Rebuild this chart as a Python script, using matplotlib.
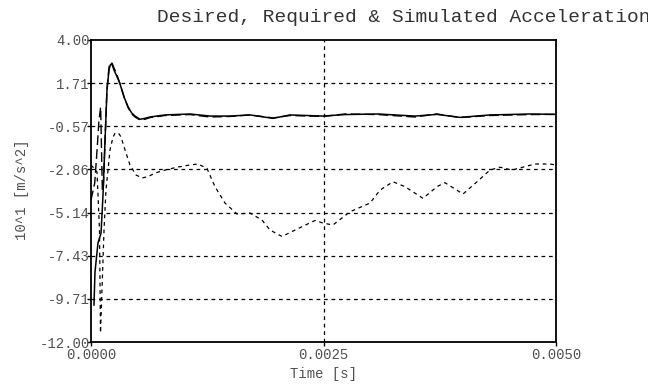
import numpy as np
import matplotlib
matplotlib.use("Agg")
import matplotlib.pyplot as plt

plt.rcParams['font.family'] = ['Liberation Mono', 'DejaVu Sans Mono']

# time in ms, values in 10^1 m/s^2
t_des = [0.0, 0.0645, 0.0914, 0.102, 0.118, 0.140, 0.161, 0.183, 0.204, 0.237,
         0.258, 0.280, 0.302, 0.323, 0.366, 0.419, 0.484, 0.548, 0.613, 0.688,
         0.796, 0.925, 1.065, 1.151, 1.247, 1.333, 1.441, 1.570, 1.710, 1.839,
         1.925, 2.054, 2.194, 2.409, 2.495, 2.602, 2.785, 3.000, 3.108, 3.247,
         3.376, 3.570, 3.720, 3.806, 4.000, 4.151, 4.290, 4.398, 4.527, 4.774,
         4.935, 5.0]
a_des = [-2.62, -2.99, -6.07, -11.52, -9.25, -6.07, -3.95, -2.89, -1.83, -1.14,
         -0.95, -0.90, -0.98, -1.14, -1.83, -2.62, -3.15, -3.31, -3.24, -3.05,
         -2.89, -2.74, -2.62, -2.57, -2.80, -3.77, -4.64, -5.22, -5.17, -5.54,
         -6.07, -6.41, -6.07, -5.56, -5.70, -5.80, -5.10, -4.64, -3.95, -3.51,
         -3.77, -4.39, -3.77, -3.56, -4.16, -3.51, -2.89, -2.74, -2.89, -2.57,
         -2.57, -2.62]

t_req = [0.0, 0.040, 0.065, 0.086, 0.104, 0.113, 0.122, 0.134, 0.151, 0.172,
         0.194, 0.206, 0.218, 0.230, 0.247, 0.280, 0.312, 0.355, 0.398, 0.435,
         0.473, 0.527, 0.580, 0.634, 0.796, 1.065, 1.280, 1.495, 1.710, 1.957,
         2.140, 2.495, 2.731, 3.086, 3.484, 3.720, 3.968, 4.290, 4.720, 5.0]
a_req = [-4.48, -3.58, -1.83, -0.24, 0.45, -1.83, -3.95, -3.68, -1.30, 1.46,
         2.57, 2.76, 2.81, 2.74, 2.52, 2.15, 1.67, 1.00, 0.42, 0.10,
         -0.08, -0.24, -0.20, -0.11, 0.00, 0.05, -0.08, -0.05, 0.03, -0.13,
         0.00, -0.05, 0.08, 0.05, -0.08, 0.08, -0.11, 0.00, 0.05, 0.06]

t_sim = [0.032, 0.043, 0.075, 0.108, 0.129, 0.151, 0.172, 0.194, 0.206, 0.218,
         0.230, 0.247, 0.280, 0.309, 0.355, 0.398, 0.435, 0.473, 0.527, 0.580,
         0.634, 0.796, 1.065, 1.280, 1.495, 1.710, 1.957, 2.140, 2.495, 2.731,
         3.086, 3.484, 3.720, 3.968, 4.290, 4.720, 5.0]
a_sim = [-10.04, -8.29, -6.75, -6.23, -4.21, -1.30, 1.35, 2.41, 2.66, 2.73,
         2.66, 2.41, 2.05, 1.72, 0.98, 0.47, 0.15, -0.03, -0.20, -0.15,
         -0.08, 0.03, 0.08, -0.03, -0.03, 0.03, -0.15, 0.03, -0.03, 0.05,
         0.08, -0.03, 0.06, -0.10, 0.03, 0.08, 0.06]

y_ticks = [4.00, 1.71, -0.57, -2.86, -5.14, -7.43, -9.71, -12.00]
x_ticks = [0.0, 0.0025, 0.005]

grey = '#505050'

fig = plt.figure(figsize=(6.48, 3.85), dpi=100)
ax = fig.add_axes([91/648, 43/385, 465/648, 302/385])

ax.plot(np.array(t_des) * 1e-3, a_des, color='black', lw=0.9, dashes=(3, 3))
ax.plot(np.array(t_req) * 1e-3, a_req, color='black', lw=1.0, dashes=(7, 3))
ax.plot(np.array(t_sim) * 1e-3, a_sim, color='black', lw=1.1)

ax.set_xlim(0, 0.005)
ax.set_ylim(-12, 4)
ax.set_yticks(y_ticks)
ax.set_yticklabels(['%.2f' % v for v in y_ticks])
ax.set_xticks(x_ticks)
ax.set_xticklabels(['%.4f' % v for v in x_ticks])
ax.tick_params(direction='out', length=3, width=1, colors='black',
               labelcolor=grey, labelsize=10)
ax.tick_params(axis='y', pad=-2)
ax.tick_params(axis='x', pad=1)

for v in y_ticks[1:-1]:
    ax.axhline(v, color='black', lw=0.9, dashes=(3, 3))
ax.axvline(0.0025, color='black', lw=0.9, dashes=(3, 3))

for s in ax.spines.values():
    s.set_linewidth(1.3)

ax.set_xlabel('Time [s]', color=grey, fontsize=10, labelpad=4)
fig.text(22/648, 1 - 190/385, '10^1 [m/s^2]', rotation=90, ha='center',
         va='center', color=grey, fontsize=10)

fig.text(157/648, 1 - 17/385, 'Desired, Required & Simulated Accelerations',
         ha='left', va='center', fontsize=14, color='#333333')

fig.savefig('out.png', dpi=100)
